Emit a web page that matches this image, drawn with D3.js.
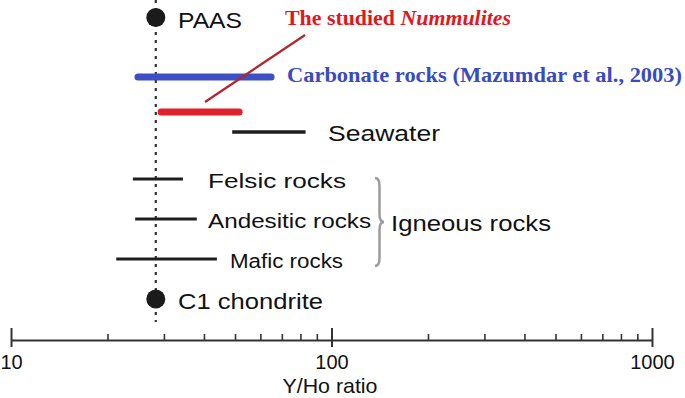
<!DOCTYPE html>
<html>
<head>
<meta charset="utf-8">
<script src="https://cdn.jsdelivr.net/npm/d3@7"></script>
<style>
  body { margin: 0; background: #fff; }
  svg { display: block; }
</style>
</head>
<body>
<div id="chart"></div>
<script>
// Y/Ho ranges
const rangeKeys  = ["carbonate", "nummulites", "seawater", "felsic", "andesitic", "mafic"];
const rangeLow   = [24.9, 29.4, 49.0, 24.0, 24.4, 21.3];
const rangeHigh  = [64.8, 51.5, 83.0, 34.4, 38.0, 43.9];
const pointKeys   = ["paas", "c1"];
const pointValues = [28.3, 28.3];
const referenceValue = 28.3;
const majorTicks = [10, 100, 1000];
const minorTicks = [20, 30, 40, 50, 60, 70, 80, 90, 200, 300, 400, 500, 600, 700, 800, 900];

var width = 685, height = 398;

const svg = d3.select("#chart")
  .append("svg")
    .attr("width", width)
    .attr("height", height);

//X scale
const x = d3.scaleLog()
  .domain([10, 1000])
  .range([11, 652]);

//row positions
const rowKeys = ["paas", "carbonate", "nummulites", "seawater", "felsic", "andesitic", "mafic", "c1"];
const y = d3.scaleOrdinal()
  .domain(rowKeys)
  .range([17.5, 77, 112, 132, 179, 219, 259, 299]);

const sans = "'Liberation Sans', Arial, Helvetica, sans-serif";
const serif = "'Liberation Serif', 'Times New Roman', serif";

//dotted reference line
svg.append("line")
  .attr("x1", x(referenceValue))
  .attr("x2", x(referenceValue))
  .attr("y1", 0)
  .attr("y2", 322)
  .attr("stroke", "#333")
  .attr("stroke-width", 2.2)
  .attr("stroke-dasharray", "3,5");

//range bars
const barStyle = {
  carbonate:  {color: "#3e4fc6", w: 7, cap: "round"},
  nummulites: {color: "#e0202a", w: 7, cap: "round"},
  seawater:   {color: "#1e1e1e", w: 3.5, cap: "butt"},
  felsic:     {color: "#1e1e1e", w: 3.2, cap: "butt"},
  andesitic:  {color: "#1e1e1e", w: 3.2, cap: "butt"},
  mafic:      {color: "#1e1e1e", w: 3.2, cap: "butt"}
};

const ranges = rangeKeys.map((k, i) => ({key: k, lo: rangeLow[i], hi: rangeHigh[i]}));

svg.selectAll(".range")
  .data(ranges)
  .enter()
  .append("line")
    .attr("class", "range")
    .attr("x1", d => x(d.lo))
    .attr("x2", d => x(d.hi))
    .attr("y1", d => y(d.key))
    .attr("y2", d => y(d.key))
    .attr("stroke", d => barStyle[d.key].color)
    .attr("stroke-width", d => barStyle[d.key].w)
    .attr("stroke-linecap", d => barStyle[d.key].cap);

//points
svg.selectAll(".pt")
  .data(pointKeys.map((k, i) => ({key: k, v: pointValues[i]})))
  .enter()
  .append("circle")
    .attr("class", "pt")
    .attr("cx", d => x(d.v))
    .attr("cy", d => y(d.key))
    .attr("r", 9.5)
    .attr("fill", "#1b1b1b");

//pointer to the studied Nummulites
svg.append("line")
  .attr("x1", x(40.3))
  .attr("y1", y("nummulites") - 10)
  .attr("x2", x(82.7))
  .attr("y2", 35)
  .attr("stroke", "#b3242b")
  .attr("stroke-width", 2.2);

//labels
const labels = [
  {text: "PAAS", key: "paas", x: 178, dy: 10.5, size: 22, len: 64},
  {text: "Seawater", key: "seawater", x: 328, dy: 9, size: 22, len: 112},
  {text: "Felsic rocks", key: "felsic", x: 208, dy: 9, size: 21, len: 138},
  {text: "Andesitic rocks", key: "andesitic", x: 208, dy: 9, size: 21, len: 163},
  {text: "Mafic rocks", key: "mafic", x: 230, dy: 9, size: 20, len: 113},
  {text: "C1 chondrite", key: "c1", x: 178, dy: 10, size: 22, len: 145}
];

svg.selectAll(".lbl")
  .data(labels)
  .enter()
  .append("text")
    .attr("class", "lbl")
    .attr("x", d => d.x)
    .attr("y", d => y(d.key) + d.dy)
    .attr("textLength", d => d.len)
    .attr("lengthAdjust", "spacingAndGlyphs")
    .style("font-family", sans)
    .style("font-size", d => d.size + "px")
    .style("fill", "#111")
    .text(d => d.text);

svg.append("text")
  .attr("x", 391)
  .attr("y", 231)
  .attr("textLength", 160)
  .attr("lengthAdjust", "spacingAndGlyphs")
  .style("font-family", sans)
  .style("font-size", "22px")
  .style("fill", "#111")
  .text("Igneous rocks");

//brace
const brace = d3.path();
brace.moveTo(375, 178);
brace.quadraticCurveTo(379.5, 178, 379.5, 186);
brace.lineTo(379.5, 214);
brace.quadraticCurveTo(379.5, 222, 384, 222);
brace.quadraticCurveTo(379.5, 222, 379.5, 230);
brace.lineTo(379.5, 258);
brace.quadraticCurveTo(379.5, 266, 375, 266);
svg.append("path")
  .attr("d", brace.toString())
  .attr("fill", "none")
  .attr("stroke", "#9c9c9c")
  .attr("stroke-width", 2.5);

svg.append("text")
  .attr("x", 285)
  .attr("y", 25)
  .attr("textLength", 226)
  .attr("lengthAdjust", "spacingAndGlyphs")
  .style("font-family", serif)
  .style("font-size", "22px")
  .style("font-weight", "bold")
  .style("fill", "#e3161e")
  .html("The studied <tspan font-style='italic'>Nummulites</tspan>");

svg.append("text")
  .attr("x", 287)
  .attr("y", 82)
  .attr("textLength", 395)
  .attr("lengthAdjust", "spacingAndGlyphs")
  .style("font-family", serif)
  .style("font-size", "22px")
  .style("font-weight", "bold")
  .style("fill", "#3a4bc0")
  .text("Carbonate rocks (Mazumdar et al., 2003)");

//X axis
const axisY = 340;
const xAxis = svg.append("g")
  .attr("transform", `translate(0,${axisY})`)
  .call(d3.axisBottom(x)
    .tickValues(majorTicks)
    .tickFormat(d3.format("d"))
    .tickSizeInner(7)
    .tickSizeOuter(0)
    .tickPadding(8));

xAxis.select(".domain")
  .attr("stroke", "#333")
  .attr("stroke-width", 2);

xAxis.selectAll(".tick line")
  .attr("y1", -12)
  .attr("stroke", "#333")
  .attr("stroke-width", 2);

xAxis.selectAll(".tick text")
  .style("font-family", sans)
  .style("font-size", "20px")
  .style("fill", "#111");

svg.append("g")
  .attr("transform", `translate(0,${axisY})`)
  .call(d3.axisTop(x)
    .tickValues(minorTicks)
    .tickFormat("")
    .tickSizeInner(6)
    .tickSizeOuter(0))
  .call(g => g.select(".domain").remove())
  .selectAll(".tick line")
    .attr("stroke", "#333")
    .attr("stroke-width", 1.6);

svg.append("text")
  .attr("x", 330)
  .attr("y", 393)
  .attr("text-anchor", "middle")
  .attr("textLength", 95)
  .attr("lengthAdjust", "spacingAndGlyphs")
  .style("font-family", sans)
  .style("font-size", "21px")
  .style("fill", "#111")
  .text("Y/Ho ratio");
</script>
</body>
</html>
